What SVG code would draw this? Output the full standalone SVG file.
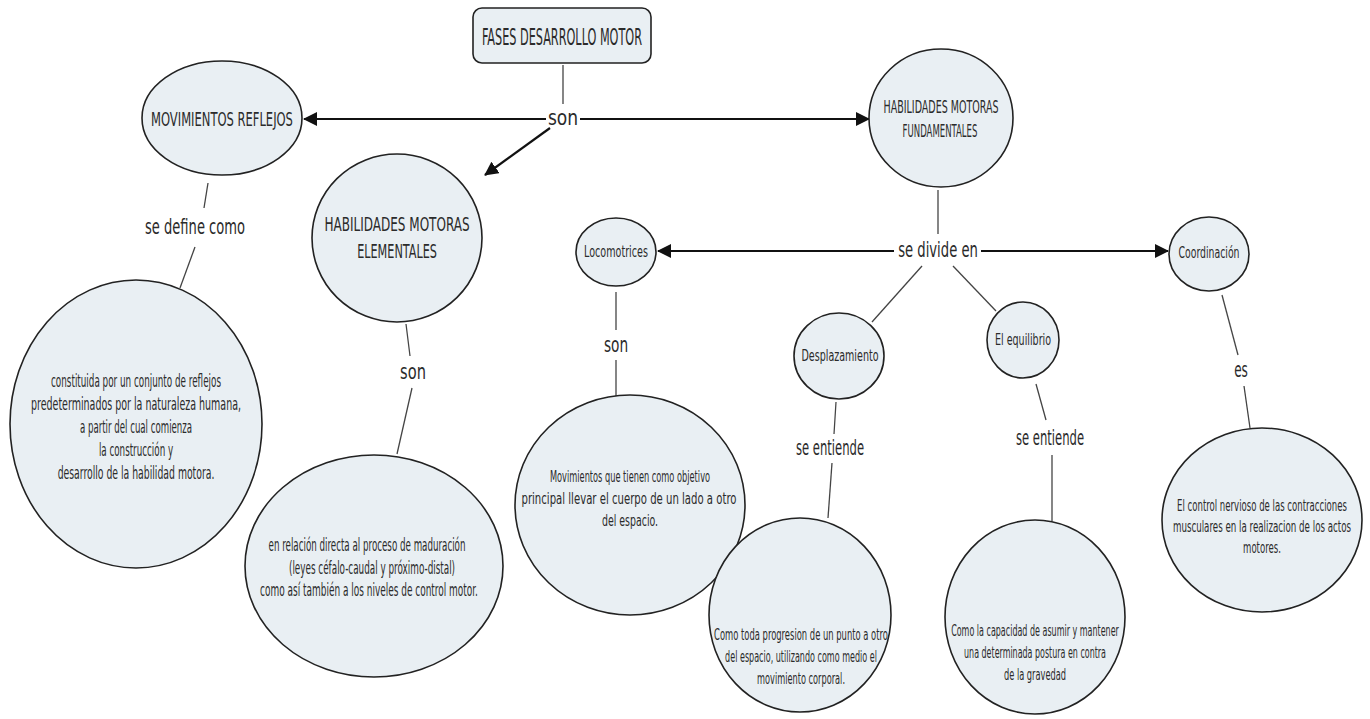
<svg xmlns="http://www.w3.org/2000/svg" width="1370" height="719" viewBox="0 0 1370 719">
<defs>
<marker id="ah" viewBox="0 0 14 14" refX="13" refY="7" markerWidth="14" markerHeight="14" markerUnits="userSpaceOnUse" orient="auto">
<path d="M0,0 L14,7 L0,14 Z" fill="#111"/>
</marker>
<style>
.n{fill:#e9eff3;stroke:#222;stroke-width:1.6}
.t{font-family:"DejaVu Sans Condensed","DejaVu Sans",sans-serif;font-stretch:condensed;fill:#2b2b2b;text-anchor:middle;dominant-baseline:central}
.c{stroke:#444;stroke-width:1.3;fill:none}
.a{stroke:#111;stroke-width:2.2;fill:none}
.l{font-size:21px}
.h{font-size:20px}
.s{font-size:16px}
.m{font-size:17px}
</style>
</defs>
<rect width="1370" height="719" fill="#fff"/>
<g id="connectors">
<line class="c" x1="563" y1="65" x2="563" y2="104"/>
<line class="a" x1="546" y1="119" x2="304" y2="119" marker-end="url(#ah)"/>
<line class="a" x1="580" y1="119" x2="869" y2="119" marker-end="url(#ah)"/>
<line class="a" x1="550" y1="128" x2="485" y2="175" marker-end="url(#ah)"/>
<line class="c" x1="208" y1="183" x2="204" y2="208"/>
<line class="c" x1="195" y1="247" x2="180" y2="288"/>
<line class="c" x1="406" y1="324" x2="410" y2="356"/>
<line class="c" x1="412" y1="388" x2="397" y2="454"/>
<line class="c" x1="938" y1="190" x2="938" y2="234"/>
<line class="a" x1="894" y1="251" x2="658" y2="251" marker-end="url(#ah)"/>
<line class="a" x1="981" y1="251" x2="1168" y2="251" marker-end="url(#ah)"/>
<line class="c" x1="922" y1="266" x2="872" y2="322"/>
<line class="c" x1="953" y1="266" x2="996" y2="311"/>
<line class="c" x1="616" y1="292" x2="616" y2="330"/>
<line class="c" x1="616" y1="360" x2="616" y2="396"/>
<line class="c" x1="836" y1="402" x2="834" y2="434"/>
<line class="c" x1="832" y1="463" x2="828" y2="518"/>
<line class="c" x1="1036" y1="384" x2="1046" y2="420"/>
<line class="c" x1="1052" y1="455" x2="1052" y2="521"/>
<line class="c" x1="1222" y1="295" x2="1238" y2="355"/>
<line class="c" x1="1244" y1="386" x2="1250" y2="428"/>
</g>
<g id="n-fases">
<rect class="n" x="473" y="8" width="178" height="55" rx="9"/>
<text class="t" font-size="23" transform="translate(562,37) scale(.55,1)" textLength="291" lengthAdjust="spacingAndGlyphs">FASES DESARROLLO MOTOR</text>
</g>
<g id="l-son1"><text class="t l" transform="translate(563,118) scale(.55,1)" textLength="55" lengthAdjust="spacingAndGlyphs">son</text></g>
<g id="n-reflejos">
<ellipse class="n" cx="222" cy="118" rx="80" ry="57"/>
<text class="t h" transform="translate(222,119) scale(.55,1)" textLength="258" lengthAdjust="spacingAndGlyphs">MOVIMIENTOS REFLEJOS</text>
</g>
<g id="n-fundamentales">
<ellipse class="n" cx="941" cy="118" rx="72" ry="69"/>
<text class="t" font-size="17" transform="translate(941,107) scale(.55,1)" textLength="209" lengthAdjust="spacingAndGlyphs">HABILIDADES MOTORAS</text>
<text class="t" font-size="17" transform="translate(940,131) scale(.55,1)" textLength="136" lengthAdjust="spacingAndGlyphs">FUNDAMENTALES</text>
</g>
<g id="n-elementales">
<ellipse class="n" cx="397" cy="238" rx="85" ry="84"/>
<text class="t h" transform="translate(397,224) scale(.55,1)" textLength="264" lengthAdjust="spacingAndGlyphs">HABILIDADES MOTORAS</text>
<text class="t h" transform="translate(397,251) scale(.55,1)" textLength="145" lengthAdjust="spacingAndGlyphs">ELEMENTALES</text>
</g>
<g id="l-define"><text class="t l" transform="translate(195,227) scale(.55,1)" textLength="182" lengthAdjust="spacingAndGlyphs">se define como</text></g>
<g id="n-constituida">
<ellipse class="n" cx="136" cy="424" rx="126" ry="144"/>
<text class="t m" transform="translate(136,381) scale(.55,1)" textLength="309" lengthAdjust="spacingAndGlyphs">constituida por un conjunto de reflejos</text>
<text class="t m" transform="translate(136,404) scale(.55,1)" textLength="382" lengthAdjust="spacingAndGlyphs">predeterminados por la naturaleza humana,</text>
<text class="t m" transform="translate(136,427) scale(.55,1)" textLength="204" lengthAdjust="spacingAndGlyphs">a partir del cual comienza</text>
<text class="t m" transform="translate(136,450) scale(.55,1)" textLength="135" lengthAdjust="spacingAndGlyphs">la construcción y</text>
<text class="t m" transform="translate(136,473) scale(.55,1)" textLength="285" lengthAdjust="spacingAndGlyphs">desarrollo de la habilidad motora.</text>
</g>
<g id="l-son2"><text class="t l" transform="translate(413,372) scale(.55,1)" textLength="47" lengthAdjust="spacingAndGlyphs">son</text></g>
<g id="n-relacion">
<ellipse class="n" cx="374" cy="566" rx="129" ry="111"/>
<text class="t m" transform="translate(367,545) scale(.55,1)" textLength="358" lengthAdjust="spacingAndGlyphs">en relación directa al proceso de maduración</text>
<text class="t m" transform="translate(372,568) scale(.55,1)" textLength="302" lengthAdjust="spacingAndGlyphs">(leyes céfalo-caudal y próximo-distal)</text>
<text class="t m" transform="translate(369,590) scale(.55,1)" textLength="396" lengthAdjust="spacingAndGlyphs">como así también a los niveles de control motor.</text>
</g>
<g id="n-locomotrices">
<ellipse class="n" cx="616" cy="252" rx="40" ry="34"/>
<text class="t s" transform="translate(616,251) scale(.55,1)" textLength="116" lengthAdjust="spacingAndGlyphs">Locomotrices</text>
</g>
<g id="l-son3"><text class="t l" transform="translate(616,345) scale(.55,1)" textLength="44" lengthAdjust="spacingAndGlyphs">son</text></g>
<g id="n-movimientos">
<ellipse class="n" cx="630" cy="505" rx="115" ry="110"/>
<text class="t s" transform="translate(630,476) scale(.55,1)" textLength="291" lengthAdjust="spacingAndGlyphs">Movimientos que tienen como objetivo</text>
<text class="t s" transform="translate(629,498) scale(.55,1)" textLength="391" lengthAdjust="spacingAndGlyphs">principal llevar el cuerpo  de un lado a otro</text>
<text class="t s" transform="translate(630,520) scale(.55,1)" textLength="102" lengthAdjust="spacingAndGlyphs">del espacio.</text>
</g>
<g id="l-divide"><text class="t l" transform="translate(938,250) scale(.55,1)" textLength="145" lengthAdjust="spacingAndGlyphs">se divide en</text></g>
<g id="n-desplazamiento">
<ellipse class="n" cx="839" cy="356" rx="45" ry="43"/>
<text class="t s" transform="translate(840,355) scale(.55,1)" textLength="140" lengthAdjust="spacingAndGlyphs">Desplazamiento</text>
</g>
<g id="n-equilibrio">
<ellipse class="n" cx="1023" cy="340" rx="36" ry="38"/>
<text class="t s" transform="translate(1023,339) scale(.55,1)" textLength="102" lengthAdjust="spacingAndGlyphs">El equilibrio</text>
</g>
<g id="n-coordinacion">
<ellipse class="n" cx="1209" cy="254" rx="40" ry="37"/>
<text class="t s" transform="translate(1209,252) scale(.55,1)" textLength="111" lengthAdjust="spacingAndGlyphs">Coordinación</text>
</g>
<g id="l-entiende1"><text class="t l" transform="translate(830,448) scale(.55,1)" textLength="124" lengthAdjust="spacingAndGlyphs">se entiende</text></g>
<g id="l-entiende2"><text class="t l" transform="translate(1050,438) scale(.55,1)" textLength="124" lengthAdjust="spacingAndGlyphs">se entiende</text></g>
<g id="l-es"><text class="t l" transform="translate(1241,370) scale(.55,1)" textLength="25" lengthAdjust="spacingAndGlyphs">es</text></g>
<g id="n-progresion">
<ellipse class="n" cx="800" cy="615" rx="91" ry="97"/>
<text class="t s" transform="translate(801,634) scale(.55,1)" textLength="316" lengthAdjust="spacingAndGlyphs">Como toda progresion  de un punto a otro</text>
<text class="t s" transform="translate(801,656) scale(.55,1)" textLength="276" lengthAdjust="spacingAndGlyphs">del espacio, utilizando como medio el</text>
<text class="t s" transform="translate(801,678) scale(.55,1)" textLength="160" lengthAdjust="spacingAndGlyphs">movimiento corporal.</text>
</g>
<g id="n-capacidad">
<ellipse class="n" cx="1035" cy="617" rx="90" ry="97"/>
<text class="t s" transform="translate(1035,630) scale(.55,1)" textLength="305" lengthAdjust="spacingAndGlyphs">Como la capacidad de asumir y mantener</text>
<text class="t s" transform="translate(1035,652) scale(.55,1)" textLength="258" lengthAdjust="spacingAndGlyphs">una determinada postura en contra</text>
<text class="t s" transform="translate(1035,674) scale(.55,1)" textLength="113" lengthAdjust="spacingAndGlyphs">de la gravedad</text>
</g>
<g id="n-control">
<ellipse class="n" cx="1262" cy="520" rx="100" ry="92"/>
<text class="t s" transform="translate(1262,505) scale(.55,1)" textLength="309" lengthAdjust="spacingAndGlyphs">El control nervioso de las contracciones</text>
<text class="t s" transform="translate(1262,526) scale(.55,1)" textLength="324" lengthAdjust="spacingAndGlyphs">musculares en la realizacion de los actos</text>
<text class="t s" transform="translate(1262,547) scale(.55,1)" textLength="69" lengthAdjust="spacingAndGlyphs">motores.</text>
</g>
</svg>
